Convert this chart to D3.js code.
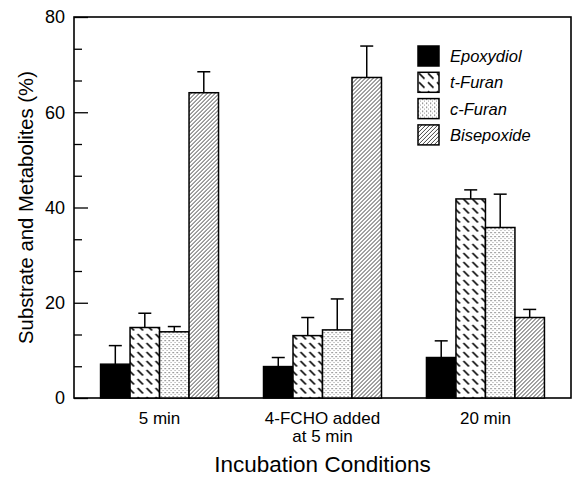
<!DOCTYPE html>
<html>
<head>
<meta charset="utf-8">
<script src="https://cdn.jsdelivr.net/npm/d3@7"></script>
<style>
  body { margin: 0; background: #fff; }
  svg { display: block; font-family: Arial, "Liberation Sans", Helvetica, sans-serif; }
</style>
</head>
<body>
<svg id="chart" width="573" height="479"></svg>
<script>
// data
const conditions = [["5 min"], ["4-FCHO added", "at 5 min"], ["20 min"]];
const seriesNames = ["Epoxydiol", "t-Furan", "c-Furan", "Bisepoxide"];
const epoxydiol     = [7.1, 6.6, 8.5];
const epoxydiolErr  = [3.9, 1.9, 3.5];
const tFuran        = [14.8, 13.1, 41.8];
const tFuranErr     = [3.0, 3.8, 1.9];
const cFuran        = [13.9, 14.3, 35.8];
const cFuranErr     = [1.1, 6.5, 7.0];
const bisepoxide    = [64.1, 67.3, 16.9];
const bisepoxideErr = [4.4, 6.6, 1.7];
const yTicks = [0, 20, 40, 60, 80];

const values = [epoxydiol, tFuran, cFuran, bisepoxide];
const errors = [epoxydiolErr, tFuranErr, cFuranErr, bisepoxideErr];
const fills  = ["#000", "url(#tfuran)", "url(#cfuran)", "url(#bisep)"];

const svg = d3.select("#chart");
const margin = {top: 17, right: 2, bottom: 81, left: 74};
const W = 573, H = 479;

// patterns
const defs = svg.append("defs");
const pT = defs.append("pattern").attr("id", "tfuran")
  .attr("patternUnits", "userSpaceOnUse").attr("width", 9).attr("height", 9);
pT.append("rect").attr("width", 9).attr("height", 9).attr("fill", "#fff");
pT.append("line").attr("x1", 1).attr("y1", 1).attr("x2", 6.5).attr("y2", 6.5)
  .attr("stroke", "#000").attr("stroke-width", 1.7);

const pC = defs.append("pattern").attr("id", "cfuran")
  .attr("patternUnits", "userSpaceOnUse").attr("width", 4).attr("height", 4);
pC.append("rect").attr("width", 4).attr("height", 4).attr("fill", "#fff");
pC.append("rect").attr("x", 0).attr("y", 0).attr("width", 1.2).attr("height", 1.2).attr("fill", "#666");
pC.append("rect").attr("x", 2).attr("y", 2).attr("width", 1).attr("height", 1).attr("fill", "#999");

const pB = defs.append("pattern").attr("id", "bisep")
  .attr("patternUnits", "userSpaceOnUse").attr("width", 4).attr("height", 4);
pB.append("rect").attr("width", 4).attr("height", 4).attr("fill", "#fff");
pB.append("path").attr("d", "M-1,1 L1,-1 M0,4 L4,0 M3,5 L5,3")
  .attr("stroke", "#222").attr("stroke-width", 0.85);

// scales
const x0 = d3.scaleBand().domain(d3.range(conditions.length))
  .range([margin.left, W - margin.right]).paddingInner(0.276).paddingOuter(0.163);
const x1 = d3.scaleBand().domain(d3.range(seriesNames.length))
  .range([0, x0.bandwidth()]);
const y = d3.scaleLinear().domain([0, 80]).range([H - margin.bottom, margin.top]);

// y axis: major ticks inward
svg.append("g")
  .attr("transform", `translate(${margin.left},0)`)
  .call(d3.axisLeft(y).tickValues(yTicks).tickSize(-14).tickSizeOuter(0).tickPadding(9))
  .call(g => g.select(".domain").remove())
  .call(g => g.selectAll("line").attr("stroke", "#000").attr("stroke-width", 1.3))
  .call(g => g.selectAll("text").attr("font-size", 18).attr("fill", "#000")
    .attr("font-family", "Arial, 'Liberation Sans', sans-serif"));

// minor ticks
svg.append("g")
  .attr("transform", `translate(${margin.left},0)`)
  .call(d3.axisLeft(y).tickValues(d3.range(0, 80, 20 / 3).filter((d, i) => i % 3 !== 0))
    .tickSize(-8).tickFormat(""))
  .call(g => g.select(".domain").remove())
  .call(g => g.selectAll("line").attr("stroke", "#000").attr("stroke-width", 1.3));

// frame
svg.append("rect")
  .attr("x", margin.left).attr("y", margin.top)
  .attr("width", W - margin.right - margin.left)
  .attr("height", H - margin.bottom - margin.top)
  .attr("fill", "none").attr("stroke", "#000").attr("stroke-width", 1.6);

// bars
const groups = svg.selectAll("g.grp").data(conditions).join("g")
  .attr("class", "grp")
  .attr("transform", (d, i) => `translate(${x0(i)},0)`);

groups.each(function(_, gi) {
  const g = d3.select(this);
  seriesNames.forEach((s, si) => {
    const v = values[si][gi], e = errors[si][gi];
    const cx = x1(si) + x1.bandwidth() / 2;
    g.append("line")
      .attr("x1", cx).attr("x2", cx).attr("y1", y(v)).attr("y2", y(v + e))
      .attr("stroke", "#000").attr("stroke-width", 1.5);
    g.append("line")
      .attr("x1", cx - 6.5).attr("x2", cx + 6.5).attr("y1", y(v + e)).attr("y2", y(v + e))
      .attr("stroke", "#000").attr("stroke-width", 1.5);
    g.append("rect")
      .attr("x", x1(si)).attr("width", x1.bandwidth())
      .attr("y", y(v)).attr("height", y(0) - y(v))
      .attr("fill", fills[si]).attr("stroke", "#000").attr("stroke-width", 1.5);
  });
});

// x labels
conditions.forEach((lines, i) => {
  const t = svg.append("text")
    .attr("x", x0(i) + x0.bandwidth() / 2).attr("y", 424)
    .attr("text-anchor", "middle").attr("font-size", 17).attr("fill", "#000");
  lines.forEach((l, li) => {
    t.append("tspan").attr("x", x0(i) + x0.bandwidth() / 2)
      .attr("dy", li === 0 ? 0 : 17.5).text(l);
  });
});

// axis titles
svg.append("text")
  .attr("x", (margin.left + W - margin.right) / 2).attr("y", 472)
  .attr("text-anchor", "middle").attr("font-size", 22.5).attr("fill", "#000")
  .text("Incubation Conditions");

svg.append("text")
  .attr("transform", `translate(33,${(margin.top + H - margin.bottom) / 2}) rotate(-90)`)
  .attr("text-anchor", "middle").attr("font-size", 20.3).attr("fill", "#000")
  .text("Substrate and Metabolites (%)");

// legend
const legend = svg.append("g").attr("transform", "translate(418,46)");
seriesNames.forEach((s, i) => {
  const row = legend.append("g").attr("transform", `translate(0,${i * 26.3})`);
  row.append("rect").attr("width", 21).attr("height", 20)
    .attr("fill", fills[i]).attr("stroke", "#000").attr("stroke-width", 1.5);
  row.append("text").attr("x", 32).attr("y", 16)
    .attr("font-size", 16.5).attr("font-style", "italic").attr("fill", "#000").text(s);
});
</script>
</body>
</html>
